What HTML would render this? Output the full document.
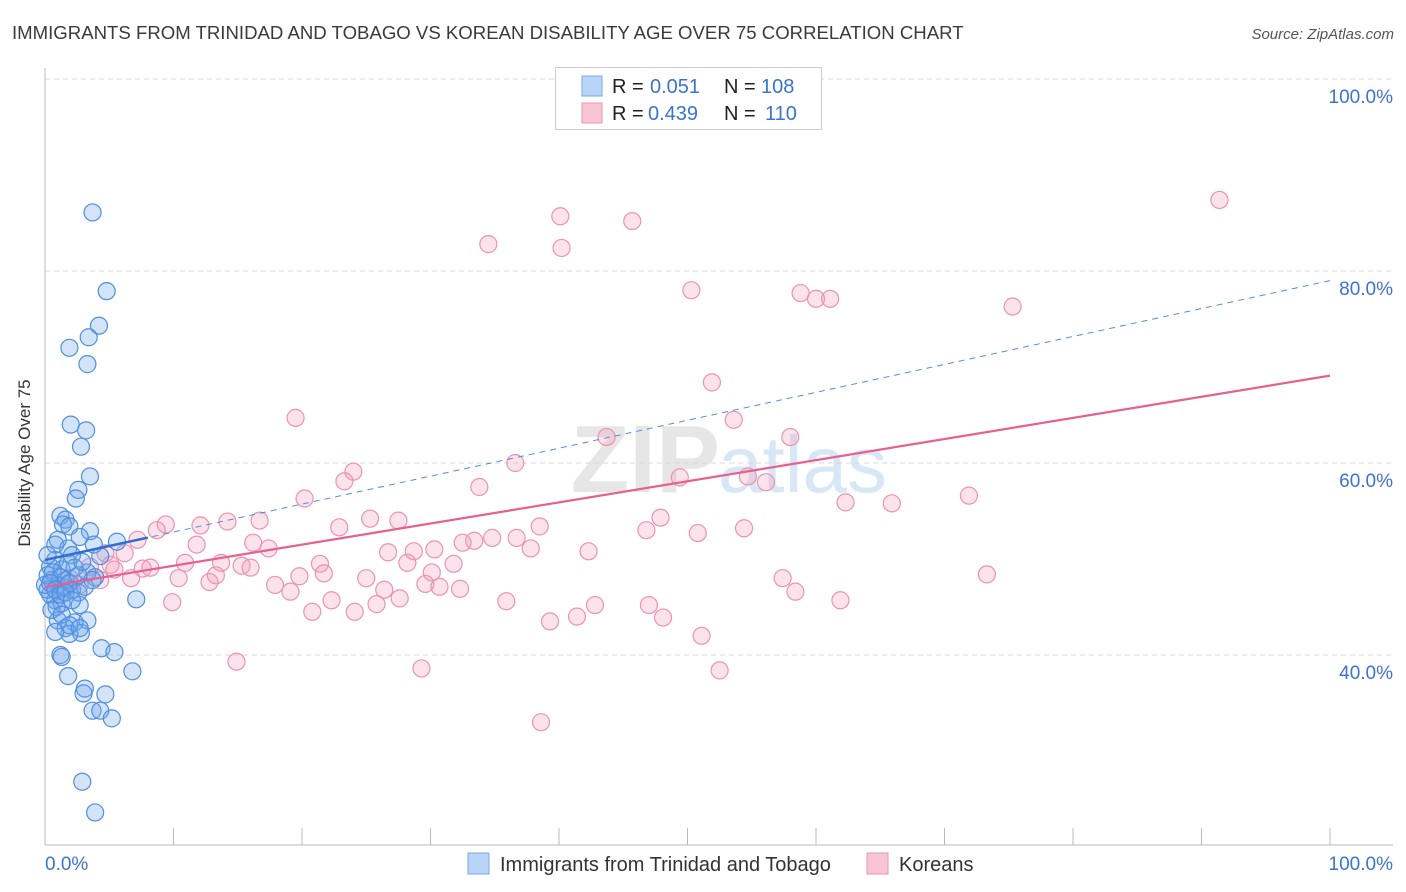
<!DOCTYPE html>
<html><head><meta charset="utf-8"><style>
body{margin:0;background:#fff;font-family:"Liberation Sans",sans-serif;}
svg{display:block}
</style></head><body>
<svg id="chart" width="1406" height="892" viewBox="0 0 1406 892">
<text x="12" y="39" font-size="18.6" fill="#3a3a3a">IMMIGRANTS FROM TRINIDAD AND TOBAGO VS KOREAN DISABILITY AGE OVER 75 CORRELATION CHART</text>
<text x="1394" y="39" font-size="15" font-style="italic" fill="#555" text-anchor="end">Source: ZipAtlas.com</text>
<text x="720" y="492" font-size="96" font-weight="bold" fill="#e6e6e6" text-anchor="end">ZIP</text>
<text x="718" y="492" font-size="80" fill="#d8e7f6">atlas</text>
<g id="grid"></g><g id="axes"></g><g id="pts"></g><g id="lines"></g>
<text x="22" y="455" font-size="17" fill="#333" transform="rotate(-90 30 455)" text-anchor="middle">Disability Age Over 75</text>
<g>
<rect x="555.5" y="67.5" width="266" height="62" fill="#fff" stroke="#ccc"/>
<rect x="582" y="76" width="20" height="20" fill="#b8d4f6" stroke="#7aaae6"/>
<rect x="582" y="103" width="20" height="20" fill="#f9c4d4" stroke="#eb97b3"/>
<text x="612" y="93" font-size="20" fill="#222">R = </text><text x="650" y="93" font-size="20" fill="#3a74d0">0.051</text>
<text x="724" y="93" font-size="20" fill="#222">N = </text><text x="761" y="93" font-size="20" fill="#3a74d0">108</text>
<text x="612" y="120" font-size="20" fill="#222">R = </text><text x="648" y="120" font-size="20" fill="#3a74d0">0.439</text>
<text x="724" y="120" font-size="20" fill="#222">N = </text><text x="765" y="120" font-size="20" fill="#3a74d0">110</text>
</g>
<g>
<rect x="468" y="853" width="21" height="21" fill="#b8d4f6" stroke="#7aaae6"/>
<text x="500" y="871" font-size="20" fill="#333">Immigrants from Trinidad and Tobago</text>
<rect x="867" y="853" width="21" height="21" fill="#f9c4d4" stroke="#eb97b3"/>
<text x="899" y="871" font-size="20" fill="#333">Koreans</text>
</g>
</svg>
<script>
const yTicks=[40,60,80,100];
const yTickLabels=["40.0%","60.0%","80.0%","100.0%"];
const xTickLabels=["0.0%","100.0%"];
const blueX=[3.7,4.8,4.2,3.4,1.9,3.3,2.0,3.2,2.8,3.5,2.6,2.4,1.2,1.6,1.4,1.9,3.5,5.6,0.8,1.8,2.7,3.8,2.1,0.8,0.4,1.3,2.3,3.3,3.9,0.5,1.0,1.6,2.1,2.6,0.4,0.8,1.3,0.2,2.7,0.9,3.3,1.0,2.3,1.6,2.8,1.9,0.8,4.4,5.4,1.2,1.3,6.8,1.8,3.1,3.0,4.7,3.7,4.3,5.2,2.9,3.9,7.1,0.2,0.6,1.2,1.6,1.9,0.0,0.4,0.8,1.2,1.6,2.1,3.1,3.7,2.6,1.8,2.9,4.3,1.0,0.2,0.5,1.3,1.9,2.7];
const blueY=[86.1,77.9,74.3,73.1,72.0,70.3,64.0,63.4,61.7,58.6,57.2,56.3,54.5,54.1,53.6,53.4,52.9,51.8,51.5,51.1,52.3,51.5,50.4,49.9,49.2,48.9,49.1,48.6,48.1,47.8,47.3,47.0,46.8,46.5,46.3,45.7,45.4,46.8,45.2,45.0,43.6,43.6,43.4,42.8,42.3,42.2,42.4,40.7,40.3,40.0,39.8,38.3,37.8,36.5,36.0,35.9,34.2,34.2,33.4,26.8,23.6,45.8,48.3,48.6,48.1,47.8,47.5,47.3,47.5,46.8,46.3,46.5,45.7,47.1,47.8,48.3,49.6,49.7,50.3,52.0,50.4,44.7,44.2,43.1,42.8];
const pinkX=[91.4,40.1,45.7,34.5,40.2,50.3,58.8,60.0,61.1,75.3,51.9,19.5,53.6,43.7,58.0,24.0,36.6,23.3,49.4,54.7,56.1,33.8,71.9,20.2,62.3,65.9,47.9,46.8,54.4,50.8,38.5,27.5,25.3,22.9,16.7,14.2,12.1,9.4,8.7,7.2,11.8,16.2,17.4,6.2,4.7,5.1,3.5,7.6,8.2,10.9,13.7,15.3,16.0,21.4,26.7,28.7,30.3,32.5,33.4,34.8,36.7,37.8,42.3,28.2,30.1,31.8,6.7,10.4,12.8,13.3,19.8,21.7,25.0,26.4,27.6,29.6,30.7,32.3,17.9,19.1,9.9,20.8,22.3,24.1,25.8,35.9,39.3,41.4,42.8,47.0,48.1,57.4,58.4,61.9,73.3,51.1,14.9,29.3,52.5,38.6,4.3,5.4,1.9,2.7,1.2];
const pinkY=[87.4,85.7,85.2,82.8,82.4,78.0,77.7,77.1,77.1,76.3,68.4,64.7,64.5,62.7,62.7,59.1,60.0,58.1,58.5,58.6,58.0,57.5,56.6,56.3,55.9,55.8,54.3,53.0,53.2,52.7,53.4,54.0,54.2,53.3,54.0,53.9,53.5,53.6,53.0,52.0,51.5,51.7,51.1,50.6,50.6,49.4,49.2,49.0,49.1,49.6,49.6,49.3,49.1,49.5,50.7,50.8,51.0,51.7,51.9,52.2,52.2,51.1,50.8,49.6,48.6,49.5,48.0,48.0,47.6,48.3,48.2,48.5,48.0,46.8,45.9,47.4,47.1,46.9,47.3,46.6,45.5,44.5,45.7,44.5,45.3,45.6,43.5,44.0,45.2,45.2,43.9,48.0,46.6,45.7,48.4,42.0,39.3,38.6,38.4,33.0,47.8,48.9,48.0,47.3,46.8];
const pinkTrend=[47.1,69.1];
const blueTrend=[49.9,79.0];
const blueSolidEnd=8;
const X0=45,X1=1330,YB=1039,YS=9.6;
const sx=v=>X0+(X1-X0)*v/100, sy=v=>YB-v*YS;
const NS="http://www.w3.org/2000/svg";
function mk(t,a,p){const e=document.createElementNS(NS,t);for(const k in a)e.setAttribute(k,a[k]);p.appendChild(e);return e;}
const grid=document.getElementById('grid'),axes=document.getElementById('axes'),pts=document.getElementById('pts'),lines=document.getElementById('lines');
yTicks.forEach((v,i)=>{
 const l=mk('line',{x1:45,x2:1393,y1:sy(v),y2:sy(v),stroke:'#d8d8d8','stroke-dasharray':'5,4'},grid);
 
 
 const t=mk('text',{x:1393,y:sy(v)+24,'font-size':19,fill:'#3a74d0','text-anchor':'end'},axes);
 t.textContent=yTickLabels[i];
 
 
});
const xa=mk('line',{x1:45,x2:1393,y1:845,y2:845,stroke:'#bbb'},axes);


const ya=mk('line',{x1:45,x2:45,y1:68,y2:845,stroke:'#bbb'},axes);


for(let k=0;k<=10;k++){const t=mk('line',{x1:sx(k*10),x2:sx(k*10),y1:828,y2:845,stroke:'#bbb'},axes);
 
 }
const xl0=mk('text',{x:45,y:870,'font-size':19,fill:'#3a74d0'},axes);xl0.textContent=xTickLabels[0];


const xl1=mk('text',{x:1393,y:870,'font-size':19,fill:'#3a74d0','text-anchor':'end'},axes);xl1.textContent=xTickLabels[1];


pinkX.forEach((v,i)=>{const c=mk('circle',{cx:sx(v),cy:sy(pinkY[i]),r:8.5,fill:'rgba(245,160,190,0.3)',stroke:'#ec93b2','stroke-width':1.2},pts);
 
 });
blueX.forEach((v,i)=>{const c=mk('circle',{cx:sx(v),cy:sy(blueY[i]),r:8.5,fill:'rgba(110,165,235,0.3)',stroke:'#4f8fe0','stroke-width':1.2},pts);
 
 });
const bd=mk('line',{x1:sx(0),y1:sy(blueTrend[0]),x2:sx(100),y2:sy(blueTrend[1]),stroke:'#4f8fe0','stroke-width':1,'stroke-dasharray':'6,5'},lines);


const bs=mk('line',{x1:sx(0),y1:sy(blueTrend[0]),x2:sx(blueSolidEnd),y2:sy(blueTrend[0]+(blueTrend[1]-blueTrend[0])*blueSolidEnd/100),stroke:'#2f6fd0','stroke-width':2.5},lines);


const pl=mk('line',{x1:sx(0),y1:sy(pinkTrend[0]),x2:sx(100),y2:sy(pinkTrend[1]),stroke:'#e8608f','stroke-width':2.2},lines);


</script>
</body></html>
